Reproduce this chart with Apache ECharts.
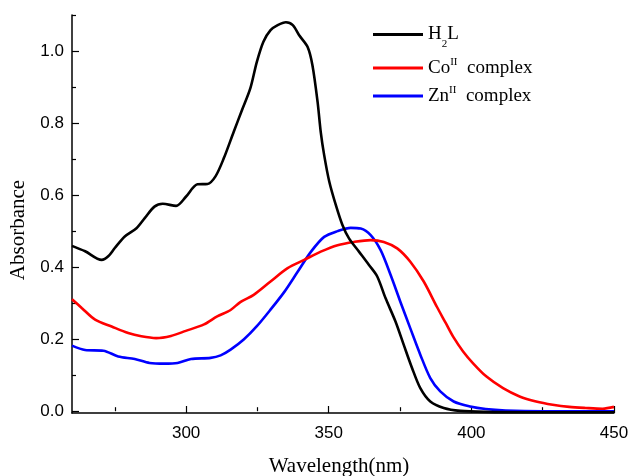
<!DOCTYPE html>
<html>
<head>
<meta charset="utf-8">
<script src="https://cdn.jsdelivr.net/npm/echarts@6/dist/echarts.min.js"></script>
<style>html,body{margin:0;padding:0;background:#fff}#c{width:630px;height:476px}</style>
</head>
<body>
<div id="c"></div>
<script>
// Wavelength (nm) and absorbance values
const h2lX = [260,264.6,270.4,272.7,275,278.5,282.6,285.5,288.9,291.8,296.5,300,304,307.5,310.3,313.2,316.7,319.6,322.5,324.8,327.1,329.6,332.1,335,337.4,339.7,342.6,344.3,346.1,347.2,348.4,350.2,352.5,354.8,357.1,360.6,364.1,367,369.9,373.4,376.3,379.2,382.1,385.6,390.3,396.1,405,420,435,450];
const h2lY = [0.459,0.444,0.420,0.430,0.453,0.485,0.508,0.536,0.568,0.576,0.570,0.596,0.630,0.631,0.652,0.702,0.776,0.836,0.896,0.970,1.026,1.058,1.072,1.080,1.072,1.043,1.011,0.960,0.858,0.775,0.711,0.637,0.572,0.517,0.480,0.443,0.406,0.374,0.314,0.249,0.184,0.120,0.064,0.027,0.009,0.001,-0.002,-0.003,-0.003,-0.003];

const coX = [260,263.5,268.1,273.9,279.7,284.3,289.5,294.7,299.9,306.3,310.9,315.6,319,323.7,329.6,335.6,341.4,347.2,353.1,358.9,364.7,369.3,374,378.6,383.3,387.9,391,393.6,397.1,400.6,405.3,411.1,416.9,422.7,428.5,434.3,440.1,446,450];
const coY = [0.311,0.286,0.254,0.235,0.217,0.208,0.203,0.209,0.223,0.241,0.263,0.281,0.303,0.323,0.360,0.397,0.420,0.443,0.461,0.470,0.475,0.470,0.452,0.415,0.360,0.290,0.245,0.207,0.166,0.133,0.096,0.064,0.041,0.027,0.018,0.012,0.009,0.007,0.012];

const znX = [260,264.6,271,276.2,282,287.2,292.4,297,301.7,308.6,312.1,315.6,320.2,324.8,329.6,334.5,339.1,343.8,348.4,353.1,357.7,361.2,364.7,368.2,371.7,375.1,378.6,382.1,385.6,389.1,393.8,399.6,405,412,425,440,450];
const znY = [0.182,0.170,0.168,0.152,0.145,0.134,0.132,0.134,0.145,0.148,0.155,0.171,0.199,0.236,0.282,0.332,0.387,0.443,0.484,0.500,0.509,0.507,0.489,0.447,0.378,0.304,0.230,0.157,0.092,0.055,0.027,0.013,0.006,0.002,0.000,0.000,0.000];

const xMajorTicks = [300,350,400,450];
const xMinorTicks = [275,325,375,425];
const yMajorTicks = [0,0.2,0.4,0.6,0.8,1.0];
const yMinorTicks = [0.1,0.3,0.5,0.7,0.9,1.1];

const seriesNames = ['H2L','CoII complex','ZnII complex'];
const seriesColors = ['#000000','#ff0000','#0000ff'];
const seriesLegendText = {
  'H2L': '{a|H}{sub|2}{a|L}',
  'CoII complex': '{a|Co}{sup|II}{a|  complex}',
  'ZnII complex': '{a|Zn}{sup|II}{a|  complex}'
};

function zip(xs, ys){ return xs.map((x,i)=>[x, ys[i]]); }

const SERIF = 'Liberation Serif, Times New Roman, serif';
const SANS = 'Liberation Sans, Arial, sans-serif';

const richStyles = {
  a: {fontFamily: SERIF, fontSize: 19, color: '#000', lineHeight: 22},
  sub: {fontFamily: SERIF, fontSize: 11, color: '#000', lineHeight: 11, verticalAlign: 'bottom', padding: [0,0,-4,0]},
  sup: {fontFamily: SERIF, fontSize: 11, color: '#000', lineHeight: 11, verticalAlign: 'top'}
};

const legendTops = [25, 57, 85];
const legends = seriesNames.map((n, i) => ({
  data: [n],
  left: 373,
  top: legendTops[i],
  padding: 0,
  icon: 'rect',
  itemWidth: 50,
  itemHeight: 3,
  selectedMode: false,
  formatter: name => seriesLegendText[name],
  textStyle: {rich: richStyles}
}));

const dataSets = [zip(h2lX, h2lY), zip(coX, coY), zip(znX, znY)];

const chart = echarts.init(document.getElementById('c'), null, {renderer: 'canvas'});
chart.setOption({
  animation: false,
  backgroundColor: '#fff',
  grid: {left: 72, right: 16, top: 15, bottom: 63, containLabel: false, outerBoundsMode: 'none'},
  legend: legends,
  xAxis: [{
    type: 'value', min: 260, max: 450,
    name: 'Wavelength(nm)', nameLocation: 'middle', nameGap: 43,
    nameTextStyle: {fontFamily: SERIF, fontSize: 21, color: '#000', padding: [0, 8, 0, 0]},
    axisLine: {show: true, onZero: false, lineStyle: {color: '#000', width: 1.5}},
    axisTick: {show: true, inside: true, length: 7, lineStyle: {color: '#000', width: 1.2}, customValues: xMajorTicks},
    axisLabel: {show: true, margin: 12, fontFamily: SANS, fontSize: 17, color: '#000', customValues: xMajorTicks},
    splitLine: {show: false}
  },{
    type: 'value', min: 260, max: 450, position: 'bottom', offset: 0,
    axisLine: {show: false},
    axisTick: {show: true, inside: true, length: 4, lineStyle: {color: '#000', width: 1.2}, customValues: xMinorTicks},
    axisLabel: {show: false},
    splitLine: {show: false}
  }],
  yAxis: [{
    type: 'value', min: -0.005, max: 1.1,
    name: 'Absorbance', nameLocation: 'middle', nameGap: 41,
    nameTextStyle: {fontFamily: SERIF, fontSize: 21, color: '#000', padding: [0, 32, 0, 0]},
    axisLine: {show: true, onZero: false, lineStyle: {color: '#000', width: 1.5}},
    axisTick: {show: true, inside: true, length: 7, lineStyle: {color: '#000', width: 1.2}, customValues: yMajorTicks},
    axisLabel: {show: true, margin: 8, fontFamily: SANS, fontSize: 17, color: '#000', customValues: yMajorTicks,
      formatter: v => Number(v).toFixed(1)},
    splitLine: {show: false}
  },{
    type: 'value', min: -0.005, max: 1.1, position: 'left', offset: 0,
    axisLine: {show: false},
    axisTick: {show: true, inside: true, length: 4, lineStyle: {color: '#000', width: 1.2}, customValues: yMinorTicks},
    axisLabel: {show: false},
    splitLine: {show: false}
  }],
  series: seriesNames.map((n, i) => ({
    name: n,
    type: 'line',
    xAxisIndex: 0,
    yAxisIndex: 0,
    data: dataSets[i],
    smooth: 0.3,
    symbol: 'none',
    color: seriesColors[i],
    lineStyle: {color: seriesColors[i], width: 2.6},
    z: 3 - i
  }))
});
</script>
</body>
</html>
